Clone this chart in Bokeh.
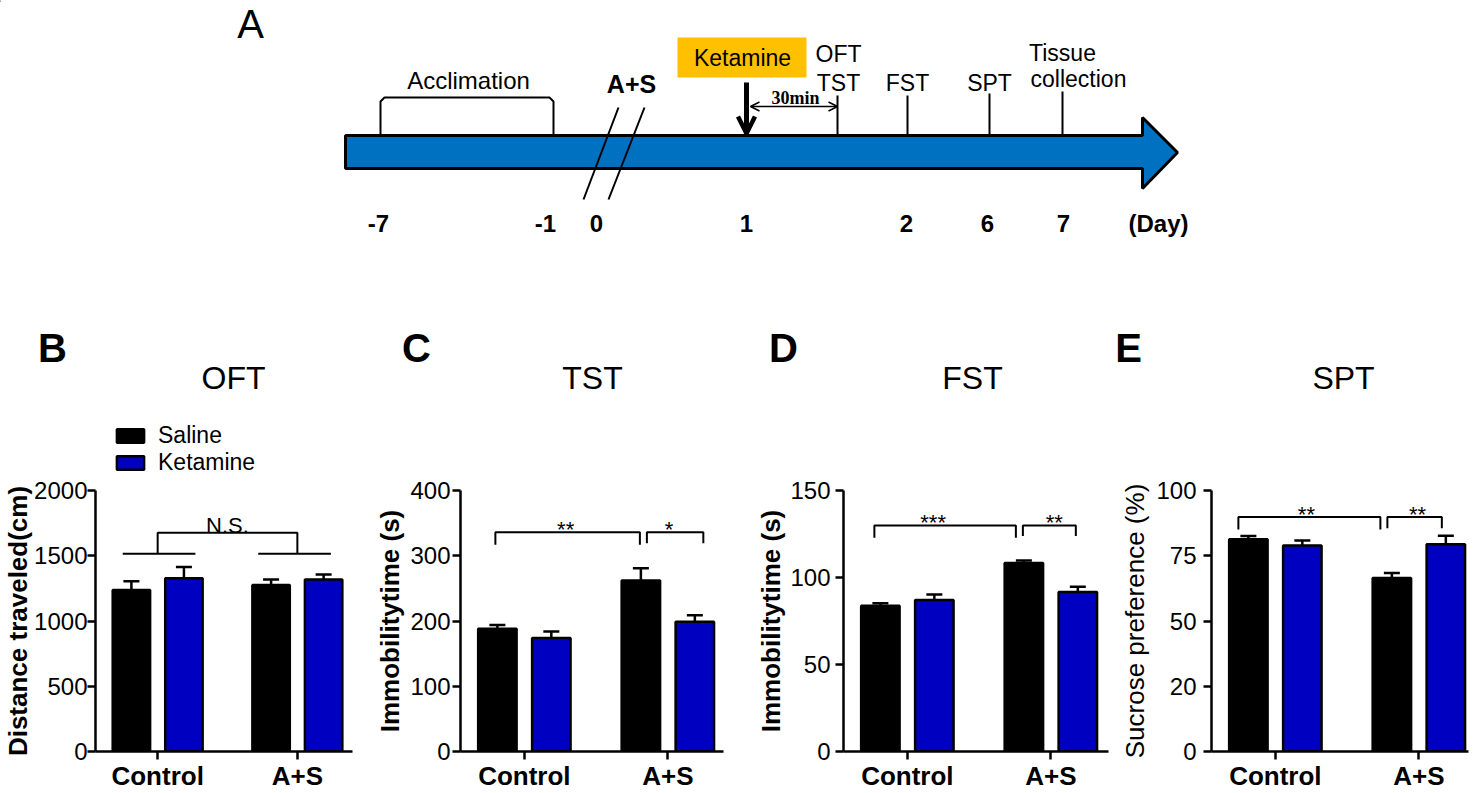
from bokeh.plotting import figure
from bokeh.models import (ColumnDataSource, Range1d, FixedTicker, Legend, LegendItem,
                          Whisker, TeeHead, Arrow, OpenHead)
from bokeh.transform import dodge
from bokeh.layouts import column, row
from bokeh.embed import file_html
from bokeh.resources import INLINE
from bokeh.core.properties import value

FONT = "Liberation Sans"

# ------------------------------------------------------------------ data
groups = ["Control", "A+S"]
treatments = ["Saline", "Ketamine"]
bar_colors = ["#000000", "#0000C0"]

oft_saline = [1237, 1275]
oft_saline_sem = [68, 43]
oft_ketamine = [1328, 1318]
oft_ketamine_sem = [86, 38]

tst_saline = [188, 262]
tst_saline_sem = [6, 19]
tst_ketamine = [174, 199]
tst_ketamine_sem = [10, 10]

fst_saline = [83.7, 108.3]
fst_saline_sem = [1.5, 1.5]
fst_ketamine = [87.1, 91.7]
fst_ketamine_sem = [3.2, 3.0]

spt_saline = [81.3, 66.5]
spt_saline_sem = [1.3, 1.9]
spt_ketamine = [78.9, 79.4]
spt_ketamine_sem = [1.9, 3.3]

oft_ticks = [0, 500, 1000, 1500, 2000]
tst_ticks = [0, 100, 200, 300, 400]
fst_ticks = [0, 50, 100, 150]
spt_ticks = [0, 25, 50, 75, 100]
spt_tick_labels = ["0", "20", "50", "75", "100"]

# significance: (label, (group, treatment, nudge_px), (group, treatment, nudge_px),
#                top, left drop, right drop, label nudge px)
tst_sig = [("**", (0, 0, -2), (1, 0, -1), 336, 317, 317, -2),
           ("*", (1, 0, 6), (1, 1, 8.5), 336, 319, 319, -6)]
fst_sig = [("***", (0, 0, -6), (1, 0, -8), 129.9, 122.9, 122.9, -12),
           ("**", (1, 0, -1), (1, 1, -2), 129.9, 123.9, 123.9, 5)]
spt_sig = [("**", (0, 0, -10), (1, 0, -11.5), 89.8, 85.1, 85.1, -3),
           ("**", (1, 0, -4.5), (1, 1, -4), 89.8, 85.5, 85.5, 3)]
oft_ns_level = [1515, 1676]

panel_letters = ["B", "C", "D", "E"]
panel_titles = ["OFT", "TST", "FST", "SPT"]

# timeline (panel A)
day_labels = ["-7", "-1", "0", "1", "2", "6", "7", "(Day)"]
event_labels = ["OFT", "TST", "FST", "SPT", "Tissue", "collection"]

# ------------------------------------------------------------------ layout (px)
W = 1476
TOP_H = 476
ROW_H = 793 - TOP_H
day_x = [378, 545, 596, 746, 906, 987, 1063, 1158]
event_label_x = [838, 838, 907, 989, 1062, 1078]
event_label_y = [53, 82, 82, 82, 52, 78]
event_line_x = [837, 907, 989, 1062]
event_line_top = [95, 95, 93, 91]
letter_x = [52, 416, 783, 1128]
letter_y = 347
title_x = [233, 592, 972, 1343]
title_y = 377

# ------------------------------------------------------------------ panel A + headers
pa = figure(width=W, height=TOP_H, x_range=Range1d(0, W), y_range=Range1d(TOP_H, 0),
            output_backend="svg", toolbar_location=None,
            x_axis_location=None, y_axis_location=None, min_border=0)
pa.grid.visible = False
pa.outline_line_color = None

BAR_T, BAR_B = 135, 168
pa.segment(x0=event_line_x, y0=event_line_top, x1=event_line_x, y1=[BAR_T] * len(event_line_x),
           line_color="black", line_width=2)
pa.line(x=[380, 380, 384, 549, 553, 553], y=[BAR_T, 101, 97, 97, 101, BAR_T],
        line_color="black", line_width=2)
pa.patch(x=[345, 1142, 1142, 1177, 1142, 1142, 345],
         y=[BAR_T, BAR_T, 117, 152, 188, BAR_B, BAR_B],
         fill_color="#0070C0", line_color="black", line_width=3)
pa.segment(x0=[583, 608], y0=[199, 199], x1=[618, 644], y1=[107, 107], line_color="black", line_width=2)
pa.quad(left=[677], right=[806], top=[37], bottom=[77], fill_color="#FFC000", line_color=None)

pa.add_layout(Arrow(end=OpenHead(size=17, line_width=4.5, line_color="black"),
                    x_start=746, y_start=82, x_end=746, y_end=133,
                    line_width=5, line_color="black"))
pa.add_layout(Arrow(start=OpenHead(size=9, line_width=1.5, line_color="black"),
                    end=OpenHead(size=9, line_width=1.5, line_color="black"),
                    x_start=750, y_start=106, x_end=837, y_end=106,
                    line_width=1.5, line_color="black"))

pa.text(x=event_label_x, y=event_label_y, text=event_labels, text_font=value(FONT),
        text_font_size="23px", text_align="center", text_baseline="middle", text_color="black")
pa.text(x=day_x, y=[223] * len(day_x), text=day_labels, text_font=value(FONT),
        text_font_size="24px", text_font_style="bold", text_align="center",
        text_baseline="middle", text_color="black")
pa.text(x=[468], y=[80], text=["Acclimation"], text_font=value(FONT), text_font_size="24px",
        text_align="center", text_baseline="middle")
pa.text(x=[631], y=[83], text=["A+S"], text_font=value(FONT), text_font_size="25px",
        text_font_style="bold", text_align="center", text_baseline="middle")
pa.text(x=[742], y=[57], text=["Ketamine"], text_font=value(FONT), text_font_size="23px",
        text_align="center", text_baseline="middle")
pa.text(x=[795], y=[97], text=["30min"], text_font=value("Liberation Serif"), text_font_size="18px",
        text_font_style="bold", text_align="center", text_baseline="middle")
pa.text(x=[250], y=[1], text=["A"], text_font=value(FONT), text_font_size="40px",
        text_align="center", text_baseline="top")

# panel letters and titles of B-E
pa.text(x=letter_x, y=[letter_y] * 4, text=panel_letters, text_font=value(FONT),
        text_font_size="40px", text_font_style="bold", text_align="center",
        text_baseline="middle", text_color="black")
pa.text(x=title_x, y=[title_y] * 4, text=panel_titles, text_font=value(FONT),
        text_font_size="32px", text_align="center", text_baseline="middle", text_color="black")

# legend: proxy renderers with the bar styling, their single point lies off-canvas
proxies = []
for k in range(2):
    proxies.append(pa.vbar(x="x", top="top", width=1, bottom=0,
                           source=ColumnDataSource(dict(x=[-1000], top=[0])),
                           fill_color=bar_colors[k], line_color="black", line_width=2.5))
lg = Legend(items=[LegendItem(label=t, renderers=[r]) for t, r in zip(treatments, proxies)],
            location=(113, 0), orientation="vertical",
            glyph_width=34, glyph_height=17, label_standoff=11, spacing=0,
            padding=0, margin=0, border_line_color=None, background_fill_alpha=0,
            label_text_font=FONT, label_text_font_size="23px", label_text_color="black")
pa.add_layout(lg)

# ------------------------------------------------------------------ panels B-E
TOP_B = 14
BOT_B = 42
FRAME_H = ROW_H - TOP_B - BOT_B
S = 143.5        # px per group step
X0 = -0.445
BAR_W = 0.268
DODGE = 0.188


def make_panel(fig_l, frame_l, frame_r, fig_r, ymax, ticks, tick_labels, ylab, ylab_size,
               ylab_style, mls, als, sal, sal_e, ket, ket_e, sig=None):
    fw = frame_r - frame_l
    p = figure(width=fig_r - fig_l, height=ROW_H,
               x_range=Range1d(X0, X0 + fw / S), y_range=Range1d(0, ymax),
               output_backend="svg", toolbar_location=None,
               min_border_left=frame_l - fig_l, min_border_right=fig_r - frame_r,
               min_border_top=TOP_B, min_border_bottom=BOT_B)
    p.grid.visible = False
    p.outline_line_color = None
    py = ymax / FRAME_H   # data per px

    for ax in (p.xaxis[0], p.yaxis[0]):
        ax.axis_line_width = 2.5
        ax.axis_line_color = "black"
        ax.major_tick_line_width = 2.5
        ax.major_tick_line_color = "black"
        ax.major_tick_out = 8
        ax.major_tick_in = 0
        ax.minor_tick_line_color = None
        ax.major_label_text_color = "black"

    yax = p.yaxis[0]
    yax.ticker = FixedTicker(ticks=ticks)
    yax.major_label_overrides = {t: l for t, l in zip(ticks, tick_labels)}
    yax.major_label_text_font = FONT
    yax.major_label_text_font_size = "24px"
    yax.major_label_standoff = mls
    yax.axis_label = ylab
    yax.axis_label_text_font = FONT
    yax.axis_label_text_font_size = ylab_size
    yax.axis_label_text_font_style = ylab_style
    yax.axis_label_text_color = "black"
    yax.axis_label_standoff = als

    xax = p.xaxis[0]
    xax.ticker = FixedTicker(ticks=list(range(len(groups))))
    xax.major_label_overrides = {i: g for i, g in enumerate(groups)}
    xax.major_label_text_font = FONT
    xax.major_label_text_font_size = "26px"
    xax.major_label_text_font_style = "bold"
    xax.major_label_standoff = 1

    gi = list(range(len(groups)))
    for k, (m, e) in enumerate(((sal, sal_e), (ket, ket_e))):
        off = -DODGE if k == 0 else DODGE
        src = ColumnDataSource(dict(gi=gi, group=groups, mean=m,
                                    top=[a + b for a, b in zip(m, e)]))
        p.vbar(x=dodge("gi", off), top="mean", bottom=0, width=BAR_W, source=src,
               fill_color=bar_colors[k], line_color="black", line_width=2.5)
        p.add_layout(Whisker(base=dodge("gi", off), upper="top", lower="mean", source=src,
                             upper_head=TeeHead(size=16, line_width=2.5, line_color="black"),
                             lower_head=None, line_width=2.5, line_color="black",
                             level="annotation"))

    if sig:
        xs, ys, tx, ty, tt = [], [], [], [], []
        for lab, a, b, top, dl, dr, ln in sig:
            xa = a[0] + (-DODGE if a[1] == 0 else DODGE) + a[2] / S
            xb = b[0] + (-DODGE if b[1] == 0 else DODGE) + b[2] / S
            xs.append([xa, xa, xb, xb])
            ys.append([dl, top, top, dr])
            tx.append((xa + xb) / 2 + ln / S)
            ty.append(top + 8 * py)
            tt.append(lab)
        p.multi_line(xs=xs, ys=ys, line_color="black", line_width=2)
        p.text(x=tx, y=ty, text=tt, text_font=value(FONT), text_font_size="22px",
               text_align="center", text_baseline="middle", y_offset=5, text_color="black")
    return p


pB = make_panel(0, 88, 352, 366, 2000, oft_ticks, [str(t) for t in oft_ticks],
                "Distance traveled(cm)", "26px", "bold", 0, -2,
                oft_saline, oft_saline_sem, oft_ketamine, oft_ketamine_sem)
# N.S. comparison between groups (panel B)
pB.multi_line(xs=[[-0.25, 0.27], [0.72, 1.24], [0, 0, 1, 1]],
              ys=[[oft_ns_level[0]] * 2, [oft_ns_level[0]] * 2,
                  [oft_ns_level[0], oft_ns_level[1], oft_ns_level[1], oft_ns_level[0]]],
              line_color="black", line_width=2)
pB.text(x=[0.5], y=[1735], text=["N.S."], text_font=value(FONT), text_font_size="22px",
        text_align="center", text_baseline="middle", text_color="black")

pC = make_panel(366, 460, 723, 748, 400, tst_ticks, [str(t) for t in tst_ticks],
                "Immobilitytime (s)", "26px", "bold", 2, 2,
                tst_saline, tst_saline_sem, tst_ketamine, tst_ketamine_sem, sig=tst_sig)
pD = make_panel(748, 843, 1108, 1114, 150, fst_ticks, [str(t) for t in fst_ticks],
                "Immobilitytime (s)", "26px", "bold", 5, 1,
                fst_saline, fst_saline_sem, fst_ketamine, fst_ketamine_sem, sig=fst_sig)
pE = make_panel(1114, 1211, 1468, 1476, 100, spt_ticks, spt_tick_labels,
                "Sucrose preference (%)", "26px", "normal", 7, 3,
                spt_saline, spt_saline_sem, spt_ketamine, spt_ketamine_sem, sig=spt_sig)

layout = column(pa, row(pB, pC, pD, pE, spacing=0), spacing=0)
open("out.html", "w").write(file_html(layout, INLINE))
